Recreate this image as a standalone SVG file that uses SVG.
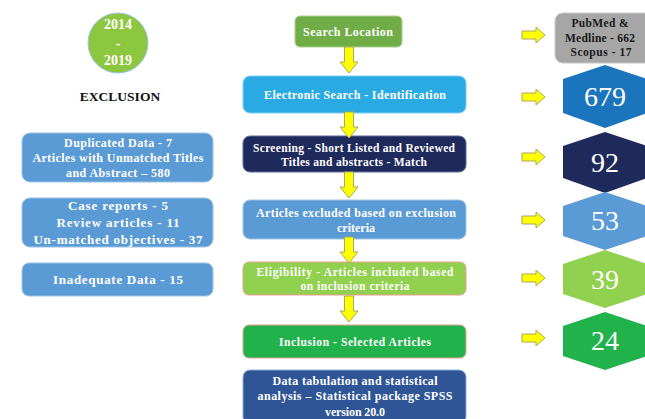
<svg xmlns="http://www.w3.org/2000/svg" width="645" height="419" viewBox="0 0 645 419">
<defs>
<style>
.t{font-family:"Liberation Serif","Times New Roman",serif;font-weight:bold;fill:#fff;text-anchor:middle}
.s11{font-size:11.5px}
.s12{font-size:12px}
.s13{font-size:13px}
.dk{fill:#1a1a1a}
.num{font-family:"Liberation Serif","Times New Roman",serif;font-size:28px;fill:#fff;text-anchor:middle}
.arr{fill:#FFFF00;stroke:#A8A860;stroke-width:1}
.lb{fill:#5B9BD5;stroke:#9DC3E6;stroke-width:1}
</style>
<path id="down" d="M-4.5,0 H4.5 V15 H9 L0,26 L-9,15 H-4.5 Z"/>
<path id="right" d="M0,-4 H14 V-8 L23,0 L14,8 V4 H0 Z"/>
</defs>
<rect width="645" height="419" fill="#fff"/>

<g id="years">
<circle cx="118" cy="43" r="30" fill="#8DC63F" stroke="#9DC3E6" stroke-width="1"/>
<text class="t" font-size="14" x="118" y="29">2014</text>
<text class="t" font-size="14" x="118" y="48">-</text>
<text class="t" font-size="14" x="118" y="65">2019</text>
</g>
<text x="120" y="101" font-family="Liberation Serif, Times New Roman, serif" font-weight="bold" font-size="13.5" fill="#111" text-anchor="middle">EXCLUSION</text>

<g id="ex1">
<rect class="lb" x="22" y="133" width="191" height="49" rx="8"/>
<text class="t s12" x="118" y="147" textLength="108" lengthAdjust="spacing">Duplicated  Data - 7</text>
<text class="t s12" x="118" y="162" textLength="171" lengthAdjust="spacing">Articles with Unmatched Titles</text>
<text class="t s12" x="118" y="177" textLength="104" lengthAdjust="spacing">and Abstract – 580</text>
</g>
<g id="ex2">
<rect class="lb" x="22" y="198" width="191" height="49" rx="8"/>
<text class="t s13" x="118" y="210" textLength="100" lengthAdjust="spacing">Case reports - 5</text>
<text class="t s13" x="118" y="227" textLength="123" lengthAdjust="spacing">Review articles -  11</text>
<text class="t s13" x="118" y="244" textLength="169" lengthAdjust="spacing">Un-matched objectives - 37</text>
</g>
<g id="ex3">
<rect class="lb" x="22" y="263" width="191" height="33" rx="7"/>
<text class="t s13" x="118" y="284" textLength="130" lengthAdjust="spacing">Inadequate Data - 15</text>
</g>

<g id="search">
<rect x="295" y="16" width="107" height="31" rx="5" fill="#70AD47" stroke="#A9D18E" stroke-width="1"/>
<text class="t s12" x="348" y="36" textLength="90" lengthAdjust="spacing">Search Location</text>
</g>
<g id="electronic">
<rect x="243" y="76" width="223" height="37" rx="7" fill="#29AAE2" stroke="#7FD0F0" stroke-width="1"/>
<text class="t s12" x="355" y="99" textLength="182" lengthAdjust="spacing">Electronic Search - Identification</text>
</g>
<g id="screening">
<rect x="243" y="136" width="223" height="36" rx="7" fill="#1F2A5C" stroke="#5B6B9C" stroke-width="1"/>
<text class="t s11" x="354" y="152" textLength="202" lengthAdjust="spacing">Screening - Short Listed and Reviewed</text>
<text class="t s11" x="354" y="166" textLength="146" lengthAdjust="spacing">Titles and abstracts -  Match</text>
</g>
<g id="excluded">
<rect x="243" y="200" width="223" height="39" rx="7" fill="#5B9BD5" stroke="#9DC3E6" stroke-width="1"/>
<text class="t s12" x="356" y="217" textLength="200" lengthAdjust="spacing">Articles excluded based on exclusion</text>
<text class="t s12" x="356" y="232">criteria</text>
</g>
<g id="eligibility">
<rect x="243" y="262" width="223" height="33" rx="6" fill="#92D050" stroke="#E8A090" stroke-width="1"/>
<text class="t s11" x="355" y="276" textLength="197" lengthAdjust="spacing">Eligibility   - Articles included based</text>
<text class="t s11" x="355" y="290" textLength="109" lengthAdjust="spacing">on inclusion  criteria</text>
</g>
<g id="inclusion">
<rect x="243" y="325" width="223" height="33" rx="6" fill="#22B24C" stroke="#E8A090" stroke-width="1"/>
<text class="t s11" x="355" y="346" textLength="152" lengthAdjust="spacing">Inclusion  - Selected Articles</text>
</g>
<g id="analysis">
<rect x="243" y="370" width="223" height="54" rx="7" fill="#2F5597" stroke="#8FAADC" stroke-width="1"/>
<text class="t s12" x="355" y="385" textLength="165" lengthAdjust="spacing">Data tabulation  and statistical</text>
<text class="t s12" x="355" y="400" textLength="195" lengthAdjust="spacing">analysis – Statistical package SPSS</text>
<text class="t s12" x="355" y="416" textLength="60" lengthAdjust="spacing">version 20.0</text>
</g>

<g id="sources">
<rect x="555" y="13" width="100" height="50" rx="8" fill="#A6A6A6" stroke="#C8C8C8" stroke-width="1"/>
<text class="t s11 dk" x="600" y="27" textLength="57" lengthAdjust="spacing">PubMed &amp;</text>
<text class="t s11 dk" x="600" y="42" textLength="70" lengthAdjust="spacing">Medline - 662</text>
<text class="t s11 dk" x="601" y="56" textLength="61" lengthAdjust="spacing">Scopus -  17</text>
</g>
<g id="n679">
<polygon points="605,65 647,79 647,113 605,128 563,113 563,79" fill="#1B75BC"/>
<text class="num" x="605" y="106">679</text>
</g>
<g id="n92">
<polygon points="605,132 647,146 647,178 605,193 563,178 563,146" fill="#1F2A5C"/>
<text class="num" x="605" y="172">92</text>
</g>
<g id="n53">
<polygon points="605,192 647,206 647,236 605,250 563,236 563,206" fill="#5B9BD5"/>
<text class="num" x="605" y="230">53</text>
</g>
<g id="n39">
<polygon points="605,250 647,264 647,294 605,308 563,294 563,264" fill="#92D050"/>
<text class="num" x="605" y="289">39</text>
</g>
<g id="n24">
<polygon points="605,312 647,326 647,356 605,370 563,356 563,326" fill="#22B24C"/>
<text class="num" x="605" y="350">24</text>
</g>

<g id="connectors">
<use href="#down" class="arr" x="349" y="47"/>
<use href="#down" class="arr" x="349" y="112"/>
<use href="#down" class="arr" x="349" y="172"/>
<use href="#down" class="arr" x="349" y="237"/>
<use href="#down" class="arr" x="349" y="296"/>
<use href="#right" class="arr" x="522" y="35"/>
<use href="#right" class="arr" x="522" y="97"/>
<use href="#right" class="arr" x="522" y="157"/>
<use href="#right" class="arr" x="522" y="220"/>
<use href="#right" class="arr" x="522" y="278"/>
<use href="#right" class="arr" x="522" y="338"/>
</g>
</svg>
